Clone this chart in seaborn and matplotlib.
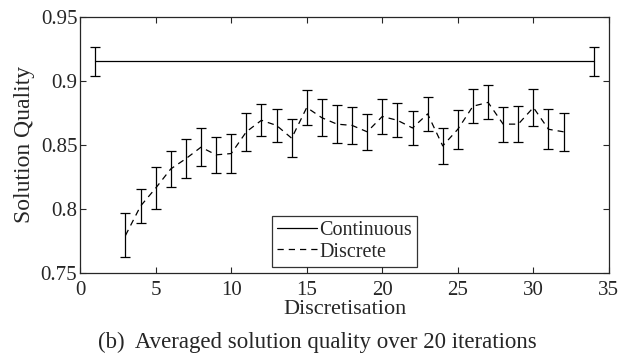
import numpy as np
import pandas as pd
import matplotlib
matplotlib.use("Agg")
import matplotlib.pyplot as plt
import seaborn as sns

# continuous result (only two ends shown)
cont_x = [1, 34]
cont_q = [0.915, 0.915]
cont_err = [0.0115, 0.0115]

# discretised results
disc_x = list(range(3, 33))
disc_q = [0.779, 0.802, 0.816, 0.831, 0.839, 0.848, 0.842, 0.843, 0.860, 0.869,
          0.865, 0.855, 0.879, 0.871, 0.866, 0.865, 0.860, 0.872, 0.869, 0.863,
          0.874, 0.849, 0.862, 0.880, 0.883, 0.866, 0.866, 0.879, 0.862, 0.860]
disc_err = [0.0172, 0.0135, 0.0163, 0.0141, 0.0151, 0.0148, 0.0143, 0.0154, 0.0150, 0.0126,
            0.0132, 0.0147, 0.0137, 0.0143, 0.0150, 0.0142, 0.0143, 0.0137, 0.0134, 0.0133,
            0.0130, 0.0142, 0.0151, 0.0135, 0.0133, 0.0137, 0.0141, 0.0145, 0.0155, 0.0147]

sns.set_style("ticks")
plt.rcParams['font.family'] = ['Liberation Serif', 'DejaVu Serif']

df_c = pd.DataFrame({'x': cont_x, 'q': cont_q})
df_d = pd.DataFrame({'x': disc_x, 'q': disc_q})

fig = plt.figure(figsize=(6.31, 3.54), dpi=100)
ax = fig.add_axes([0.127, 0.23, 0.838, 0.723])

sns.lineplot(data=df_c, x='x', y='q', ax=ax, color='black', lw=0.9, label='Continuous')
sns.lineplot(data=df_d, x='x', y='q', ax=ax, color='black', lw=0.9, linestyle=(0, (5, 4)), label='Discrete')
ax.errorbar(cont_x, cont_q, yerr=cont_err, fmt='none', ecolor='black', elinewidth=0.9, capsize=3.5, capthick=0.9)
ax.errorbar(disc_x, disc_q, yerr=disc_err, fmt='none', ecolor='black', elinewidth=0.9, capsize=3.5, capthick=0.9)

ax.set_xlim(0, 35)
ax.set_ylim(0.75, 0.95)
ax.set_xticks([0, 5, 10, 15, 20, 25, 30, 35])
ax.set_yticks([0.75, 0.8, 0.85, 0.9, 0.95])
ax.set_yticklabels(['0.75', '0.8', '0.85', '0.9', '0.95'])
ax.tick_params(direction='in', top=True, right=True, labelsize=15, length=4, width=0.8)
ax.tick_params(axis='x', pad=6)
ax.tick_params(axis='y', pad=2)
for s in ax.spines.values():
    s.set_linewidth(0.9)
    s.set_visible(True)

ax.set_xlabel('Discretisation', fontsize=16, labelpad=0)
ax.set_ylabel('Solution Quality', fontsize=17, labelpad=4)

leg = ax.legend(loc='lower center', bbox_to_anchor=(0.5, 0.0), fontsize=14.5, frameon=True,
                fancybox=False, edgecolor='black', handlelength=2.0, handletextpad=0.1,
                borderpad=0.25, labelspacing=0.1, borderaxespad=0.3)
leg.get_frame().set_linewidth(0.9)

fig.text(0.503, 0.017, '(b)  Averaged solution quality over 20 iterations', ha='center', va='baseline', fontsize=16.5)

fig.savefig('out.png', dpi=100)
